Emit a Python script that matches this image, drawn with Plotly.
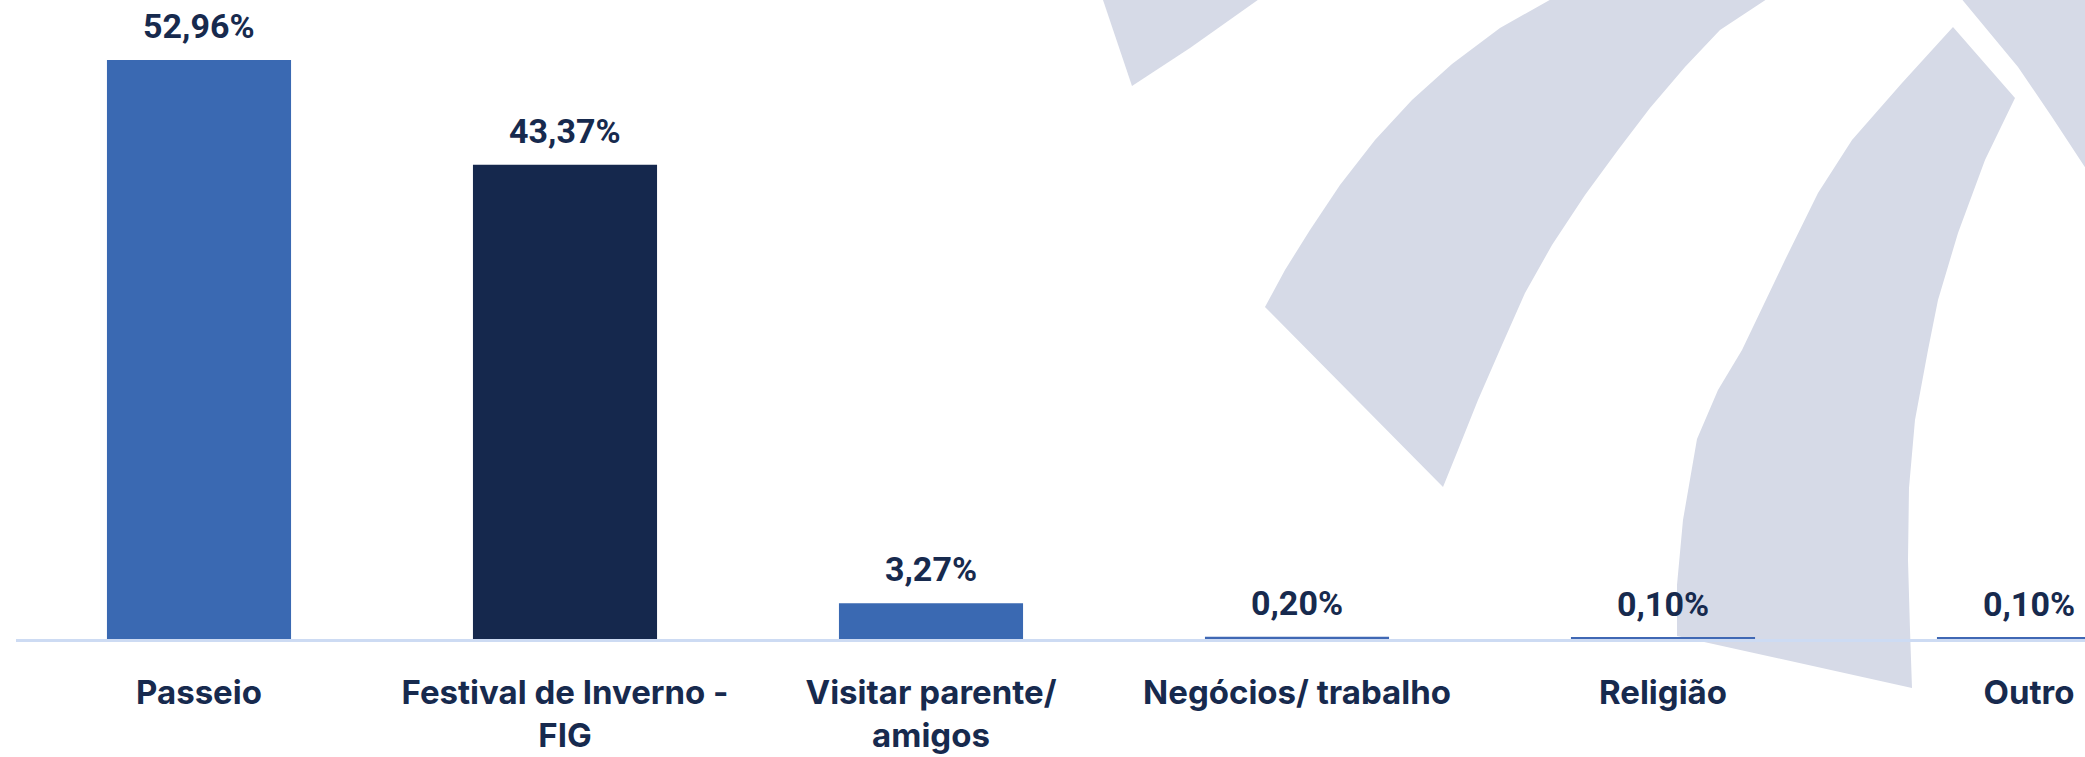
import plotly.graph_objects as go

# ---- data ----
categories = ["Passeio", "Festival de Inverno -<br>FIG", "Visitar parente/<br>amigos",
              "Negócios/ trabalho", "Religião", "Outro"]
values = [52.96, 43.37, 3.27, 0.20, 0.10, 0.10]
value_labels = ["52,96%", "43,37%", "3,27%", "0,20%", "0,10%", "0,10%"]
bar_colors = ["#3a69b2", "#15284d", "#3a69b2", "#4068b4", "#4068b4", "#4068b4"]

# ---- layout geometry (pixels) ----
W, H = 2085, 757
ML, MR, MT, MB = 16, 0, 0, 118
PW, PH = W - ML - MR, H - MT - MB
TEXT = "#172a4e"
WM = "#d6dae7"

fig = go.Figure(go.Bar(
    x=categories, y=values,
    marker=dict(color=bar_colors, line=dict(width=0)),
    hoverinfo="skip",
))

# value labels above bars
for c, v, lab in zip(categories, values, value_labels):
    fig.add_annotation(x=c, y=v, text=lab, showarrow=False, yanchor="bottom",
                       yshift=12, font=dict(family="Roboto", size=34, color=TEXT, weight=700))

# decorative watermark (logo arcs) in background, pixel polygons -> paper coords
def poly(pts):
    s = ""
    for i, (px, py) in enumerate(pts):
        xx = (px - ML) / PW
        yy = (H - MB - py) / PH
        s += ("M" if i == 0 else "L") + f"{xx:.5f},{yy:.5f} "
    return s + "Z"

wm_shapes = [
    [(1102, -3), (1132, 86), (1190, 48), (1262, -3)],
    [(1265, 307), (1285, 270), (1310, 230), (1340, 185), (1375, 140), (1412, 100), (1452, 64),
     (1500, 28), (1555, -3),
     (1770, -3), (1720, 30), (1685, 67), (1650, 108), (1618, 150), (1585, 195), (1552, 245),
     (1525, 293), (1502, 345), (1478, 400), (1458, 450), (1443, 487)],
    [(1953, 27), (2015, 98), (1985, 160), (1958, 233), (1938, 300), (1928, 350), (1915, 420),
     (1909, 488), (1908, 560), (1910, 630), (1912, 688), (1677, 636), (1677, 585), (1683, 520),
     (1697, 439), (1718, 390), (1742, 350), (1785, 260), (1818, 193), (1852, 140), (1902, 83)],
    [(1960, -3), (2018, 67), (2052, 117), (2092, 178), (2092, -3)],
]
for pts in wm_shapes:
    fig.add_shape(type="path", path=poly(pts), xref="paper", yref="paper",
                  fillcolor=WM, line=dict(width=0), layer="below")

fig.update_layout(
    width=W, height=H,
    margin=dict(l=ML, r=MR, t=MT, b=MB, pad=0, autoexpand=False),
    paper_bgcolor="white", plot_bgcolor="rgba(0,0,0,0)",
    bargap=0.497, showlegend=False,
    xaxis=dict(range=[-0.5, -0.5 + PW / 366.0], showgrid=False, zeroline=False,
               automargin=False,
               showline=True, linecolor="#cddbf3", linewidth=3, ticks="",
               ticklabelstandoff=22,
               tickfont=dict(family="Inter", size=33, color=TEXT, weight=700)),
    yaxis=dict(range=[0, PH / 10.933], visible=False, automargin=False),
)

fig.write_html("out.html", config={"displayModeBar": False},
               post_script="document.body.style.margin='0';document.body.style.overflow='hidden';")
